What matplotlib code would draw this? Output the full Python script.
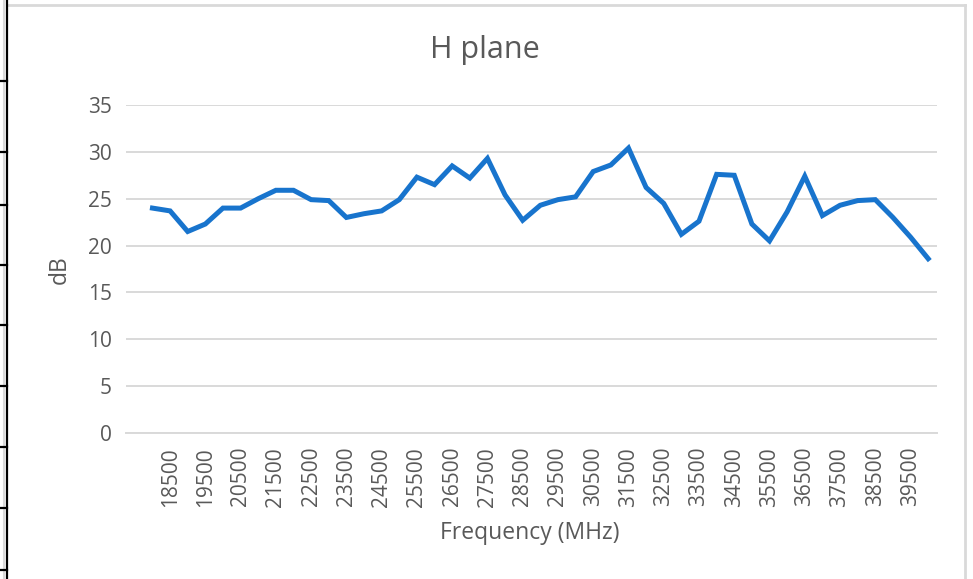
import matplotlib
matplotlib.use("Agg")
import matplotlib.pyplot as plt
from matplotlib.lines import Line2D

# categories (first category is blank in the source sheet)
freq_labels = ["", "18000", "18500", "19000", "19500", "20000", "20500", "21000", "21500",
               "22000", "22500", "23000", "23500", "24000", "24500", "25000", "25500",
               "26000", "26500", "27000", "27500", "28000", "28500", "29000", "29500",
               "30000", "30500", "31000", "31500", "32000", "32500", "33000", "33500",
               "34000", "34500", "35000", "35500", "36000", "36500", "37000", "37500",
               "38000", "38500", "39000", "39500", "40000"]

# H plane gain (dB), one value per frequency 18000..40000
gain_db = [24.0, 23.7, 21.5, 22.3, 24.0, 24.0, 25.0, 25.9, 25.9, 24.9,
           24.8, 23.0, 23.4, 23.7, 24.9, 27.3, 26.5, 28.5, 27.2, 29.3,
           25.4, 22.7, 24.3, 24.9, 25.2, 27.9, 28.6, 30.4, 26.2, 24.5,
           21.2, 22.6, 27.6, 27.5, 22.3, 20.5, 23.6, 27.4, 23.2, 24.3,
           24.8, 24.9, 23.0, 20.9, 18.6]

yticks = [0, 5, 10, 15, 20, 25, 30, 35]

TXT = "#595959"
plt.rcParams["font.family"] = ["Open Sans", "DejaVu Sans"]

fig = plt.figure(figsize=(9.73, 5.79), dpi=100)
W, H = 973, 579
ax = fig.add_axes([126 / W, 1 - 433 / H, (937 - 126) / W, (433 - 105) / H])

x = list(range(1, len(gain_db) + 1))
ax.plot(x, gain_db, color="#1874cd", lw=3.6, solid_joinstyle="miter", zorder=3)

ax.set_xlim(-0.5, len(freq_labels) - 0.5)
ax.set_ylim(0, 35)
ax.set_yticks(yticks)
ax.grid(axis="y", color="#d9d9d9", lw=1.4)
ax.set_axisbelow(True)
for s in ["top", "right", "left"]:
    ax.spines[s].set_visible(False)
ax.spines["bottom"].set_color("#d9d9d9")
ax.spines["bottom"].set_linewidth(1.4)

shown = list(range(0, len(freq_labels), 2))
ax.set_xticks(shown)
ax.set_xticklabels([freq_labels[i] for i in shown], rotation=90, fontsize=15, color=TXT)
ax.tick_params(axis="x", length=0, pad=10)
ax.tick_params(axis="y", length=0, pad=10, labelsize=15, labelcolor=TXT)

fig.text(485 / W, 1 - 50 / H, "H plane", ha="center", va="center", fontsize=22, color=TXT)
fig.text(530 / W, 1 - 533 / H, "Frequency (MHz)", ha="center", va="center", fontsize=16.5, color=TXT)
fig.text(60 / W, 1 - 270 / H, "dB", ha="center", va="center", rotation=90, fontsize=16.5, color=TXT)

# page / table borders around the embedded chart
def px_line(xs, ys, **kw):
    fig.add_artist(Line2D([v / W for v in xs], [1 - v / H for v in ys], transform=fig.transFigure, **kw))

px_line([8, 965], [5, 5], color="#d9d9d9", lw=2)
px_line([965, 965], [5, 579], color="#d9d9d9", lw=2)
px_line([4, 4], [0, 579], color="#d9d9d9", lw=1.5)
px_line([6.5, 6.5], [0, 579], color="black", lw=1.6)
for ty in [81, 152, 205, 265, 325, 386, 447, 508, 570]:
    px_line([0, 6.5], [ty, ty], color="black", lw=1.6)

fig.savefig("out.png", dpi=100)
